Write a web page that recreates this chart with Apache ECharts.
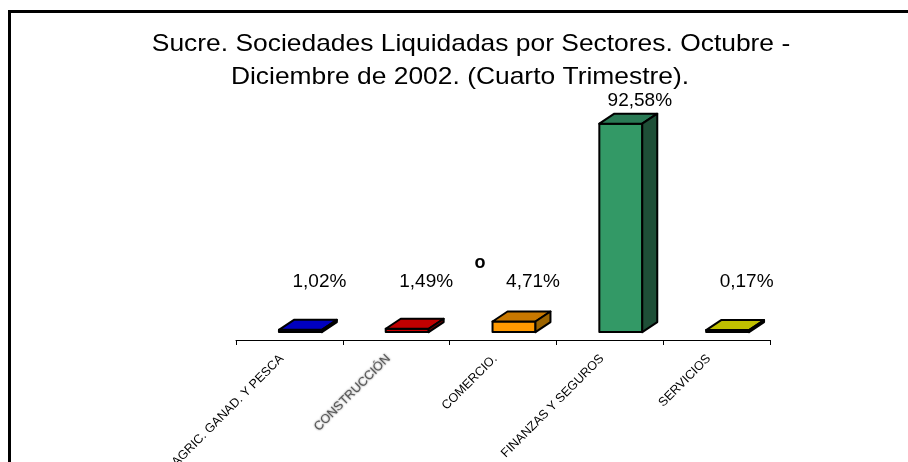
<!DOCTYPE html>
<html>
<head>
<meta charset="utf-8">
<script src="https://cdn.jsdelivr.net/npm/echarts@6/dist/echarts.min.js"></script>
<style>
  html, body { margin: 0; padding: 0; background: #fff; }
  #chart { width: 908px; height: 462px; }
</style>
</head>
<body>
<div id="chart"></div>
<script>
// datos
const categories = ['AGRIC. GANAD. Y PESCA', 'CONSTRUCCIÓN', 'COMERCIO.', 'FINANZAS Y SEGUROS', 'SERVICIOS']
const shares = [1.02, 1.49, 4.71, 92.58, 0.17]
const shareLabels = ['1,02%', '1,49%', '4,71%', '92,58%', '0,17%']
const titleLines = ['Sucre. Sociedades Liquidadas por Sectores. Octubre -', 'Diciembre de 2002. (Cuarto Trimestre).']

// colores de cara frontal, superior y lateral
const frontColors = ['#0000cc', '#cc0000', '#ff9900', '#339966', '#cccc00']
const topColors = ['#0000c0', '#c00000', '#c87800', '#2a7a55', '#c0c000']
const sideColors = ['#000070', '#700000', '#9c6400', '#1e4f37', '#808000']

const FONT = '"Liberation Sans", Arial, sans-serif'

const chart = echarts.init(document.getElementById('chart'))

const renderBar = (params, api) => {
  const i = api.value(0)
  const base = api.coord([i, 0])
  const top = api.coord([i, api.value(1)])
  const band = api.size([1, 0])[0]
  const cx = base[0]
  const x0 = cx - band * 0.098
  const x1 = x0 + band * 0.402
  const dx = 15, dy = 10
  const yb = base[1]
  const yt = Math.min(top[1], yb - 2)
  const stroke = { stroke: '#000', lineWidth: 2, lineJoin: 'round' }
  const labelY = Math.min(yt - dy - 13, yb - 50)
  return {
    type: 'group',
    children: [
      { type: 'polygon', shape: { points: [[x0, yt], [x1, yt], [x1, yb], [x0, yb]] }, style: { fill: frontColors[i], ...stroke } },
      { type: 'polygon', shape: { points: [[x0, yt], [x0 + dx, yt - dy], [x1 + dx, yt - dy], [x1, yt]] }, style: { fill: topColors[i], ...stroke } },
      { type: 'polygon', shape: { points: [[x1, yt], [x1 + dx, yt - dy], [x1 + dx, yb - dy], [x1, yb]] }, style: { fill: sideColors[i], ...stroke } },
      { type: 'text', style: { text: shareLabels[i], x: cx + 30, y: labelY, align: 'center', verticalAlign: 'middle', font: '19px ' + FONT, fill: '#000' } }
    ]
  }
}

// el título del original está algo estirado en horizontal
const titleText = (text, x, y) => ({
  type: 'text', x: x, y: y, scaleX: 1.1,
  style: { text: text, x: 0, y: 0, align: 'center', verticalAlign: 'middle', font: '24px ' + FONT, fill: '#000' }
})

chart.setOption({
  backgroundColor: '#fff',
  animation: false,
  // el eje 0 queda 8px por encima de la línea del eje, como en el original
  grid: { left: 236, right: 138, top: 107, bottom: 122, outerBoundsMode: 'none', containLabel: false },
  xAxis: {
    type: 'category',
    data: categories,
    axisLine: { onZero: false, lineStyle: { color: '#000', width: 1 } },
    axisTick: { show: true, length: 5, lineStyle: { color: '#000' } },
    axisLabel: {
      interval: 0,
      rotate: 45,
      margin: 9,
      padding: [0, 11, 0, 0],
      fontSize: 12.5,
      fontFamily: FONT,
      color: '#000',
      formatter: v => v === 'CONSTRUCCIÓN' ? '{s|' + v + '}' : v,
      rich: {
        s: { fontSize: 12.5, fontFamily: FONT, color: '#555', textShadowColor: 'rgba(0,0,0,0.6)', textShadowBlur: 2 }
      }
    }
  },
  yAxis: { type: 'value', min: -3.5, max: 100, show: false },
  series: [{
    type: 'custom',
    renderItem: renderBar,
    data: shares.map((v, i) => [i, v])
  }],
  graphic: [
    { type: 'rect', shape: { x: 9.5, y: 11.5, width: 1200, height: 1200 }, style: { fill: 'none', stroke: '#000', lineWidth: 3 } },
    titleText(titleLines[0], 471, 44),
    titleText(titleLines[1], 460, 77),
    { type: 'text', style: { text: 'o', x: 480, y: 263, align: 'center', verticalAlign: 'middle', font: 'bold 18px ' + FONT, fill: '#000' } }
  ]
})
</script>
</body>
</html>
